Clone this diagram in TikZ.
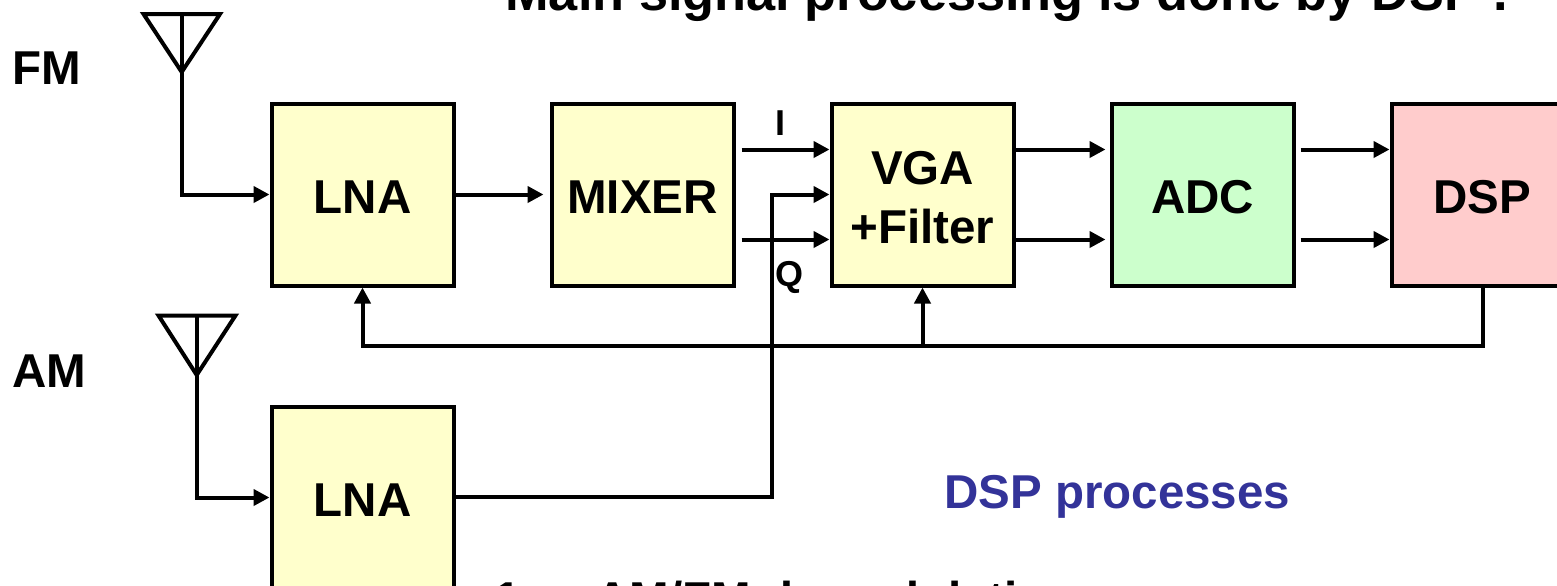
\documentclass[tikz,border=0pt]{standalone}
\usepackage{fontspec}
\setmainfont{Liberation Sans}
\usetikzlibrary{arrows.meta, positioning}

\definecolor{boxyellow}{HTML}{FFFFCC}
\definecolor{boxgreen}{HTML}{CCFFCC}
\definecolor{boxpink}{HTML}{FFCCCC}
\definecolor{procblue}{HTML}{333399}

\tikzset{
	block/.style={draw, line width=2pt, fill=boxyellow, minimum size=91pt, inner sep=0pt, align=center, text height=19pt, text depth=0pt, font=\fontsize{23.75}{29.5}\selectfont\bfseries},
	label/.style={anchor=base west, inner sep=0pt, font=\fontsize{23.75}{28.5}\selectfont\bfseries},
	small/.style={anchor=base west, inner sep=0pt, font=\fontsize{18}{21}\selectfont\bfseries},
	wire/.style={line width=2pt},
	sig/.style={wire, -{Triangle[length=8pt,width=8pt]}}
}

\begin{document}
\begin{tikzpicture}[x=0.5pt, y=-0.5pt, node distance=47pt]
	\useasboundingbox (0,0) rectangle (1557,585);
	\clip (0,0) rectangle (1557,585);

	% Blocks of the FM path
	\node[block] (lnafm) at (362.5,194.5) {LNA};
	\node[block, right=of lnafm] (mixer) {MIXER};
	\node[block, right=of mixer, text height=, text depth=] (vga) {\rule{0pt}{20pt}VGA\\+Filter};
	\node[block, right=of vga, fill=boxgreen] (adc) {ADC};
	\node[block, right=of adc, fill=boxpink] (dsp) {DSP};

	% AM path
	\node[block] (lnaam) at (362.5,497.5) {LNA};

	% Texts
	\node[anchor=base west, inner sep=0pt, font=\fontsize{26.15}{32}\selectfont\bfseries] (title) at (505,10) {Main signal processing is done by DSP .};
	\node[label] (fm) at (12.5,84.5) {FM};
	\node[label] (am) at (12,387.5) {AM};
	\node[small] (ilabel) at (775.5,135) {I};
	\node[small] (qlabel) at (775.5,286.5) {Q};
	\node[label, text=procblue] (proc) at (944,508) {DSP processes};
	\node[label] (demod) at (494,615) {1.\hspace{30.7pt}AM/FM demodulation};

	% Antennas
	\coordinate (fmtop) at (181.7,14);
	\coordinate (fmtip) at (181.7,72);
	\coordinate (amtop) at (196.7,315.5);
	\coordinate (amtip) at (196.7,375);
	\draw[wire] (143.5,14) -- (220,14) -- (fmtip) -- cycle;
	\draw[wire] (158.5,315.5) -- (235.5,315.5) -- (amtip) -- cycle;
	\draw[sig] (fmtop) |- (lnafm.west);
	\draw[sig] (amtop) |- (lnaam.west);

	% Edges along the chain
	\draw[sig] (lnafm) -- ([xshift=-3pt]mixer.west);
	\coordinate (iout) at ([xshift=3pt, yshift=22.5pt]mixer.east);
	\coordinate (qout) at ([xshift=3pt, yshift=-22.5pt]mixer.east);
	\draw[sig] (iout) -- (iout -| vga.west);
	\draw[sig] (qout) -- (qout -| vga.west);
	\draw[sig] ([yshift=22.5pt]vga.east) -- ++(45pt,0);
	\draw[sig] ([yshift=-22.5pt]vga.east) -- ++(45pt,0);
	\draw[sig] ([xshift=2.5pt, yshift=22.5pt]adc.east) -- ([yshift=22.5pt]dsp.west);
	\draw[sig] ([xshift=2.5pt, yshift=-22.5pt]adc.east) -- ([yshift=-22.5pt]dsp.west);

	% AM into the VGA
	\coordinate (amturn) at (771.7,497);
	\draw[sig] (lnaam.east |- amturn) -- (amturn) |- (vga.west);

	% Control from the DSP
	\coordinate (ctrl) at (922.5,346);
	\draw[sig] (dsp.south) -- (dsp.south |- ctrl) -- (lnafm.south |- ctrl) -- (lnafm.south);
	\draw[sig] (ctrl) -- (ctrl |- vga.south);
\end{tikzpicture}
\end{document}
